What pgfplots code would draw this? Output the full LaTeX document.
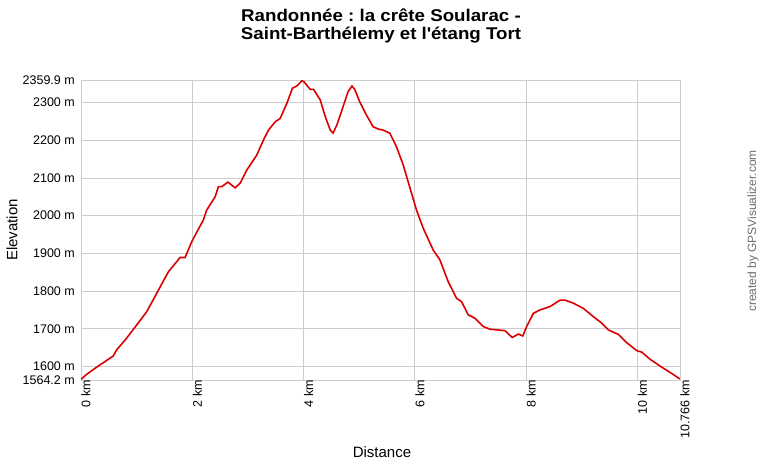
\documentclass[border=0pt]{standalone}
\usepackage{fontspec}
\setmainfont{Liberation Sans}
\newfontfamily\titlefont[FakeStretch=1.1]{Liberation Sans}
\usepackage{pgfplots}
\pgfplotsset{compat=1.18}
\definecolor{trk}{RGB}{221,0,0}
\definecolor{gridc}{RGB}{204,204,204}
\definecolor{credit}{RGB}{110,110,110}
\frenchspacing

\begin{document}
\begin{tikzpicture}
\path[use as bounding box] (-81bp,-80bp) rectangle (679bp,380bp);
\begin{axis}[
  at={(0,0)}, anchor=south west,
  scale only axis,
  width=599bp, height=300bp,
  xmin=0, xmax=10.766,
  ymin=1564.2, ymax=2359.9,
  axis line style={gridc, line width=0.8bp},
  grid=major,
  major grid style={gridc, line width=0.8bp},
  major tick length=0pt,
  xtick={0,2,4,6,8,10,10.766},
  xticklabels={0 km,2 km,4 km,6 km,8 km,10 km,10.766 km},
  ytick={1564.2,1600,1700,1800,1900,2000,2100,2200,2300,2359.9},
  yticklabels={1564.2 m,1600 m,1700 m,1800 m,1900 m,2000 m,2100 m,2200 m,2300 m,2359.9 m},
  x tick label style={rotate=90, anchor=east, inner sep=0pt, yshift=-5bp,
    font=\fontsize{12.5bp}{14bp}\selectfont},
  y tick label style={anchor=east, inner sep=0pt, xshift=-6bp,
    font=\fontsize{12.5bp}{14bp}\selectfont},
  xlabel={Distance},
  ylabel={Elevation},
  label style={font=\fontsize{15bp}{17bp}\selectfont},
  xlabel style={at={(axis description cs:0.5025,-0.24)}, anchor=center},
  ylabel style={at={(axis description cs:-0.1152,0.5)}, anchor=center},
  title={Randonnée : la crête Soularac -\\Saint-Barthélemy et l\textquotesingle étang Tort},
  title style={align=center, at={(axis description cs:0.5008,1.16)}, anchor=center,
    font=\titlefont\bfseries\fontsize{17bp}{18bp}\selectfont},
]
\addplot[color=trk, line width=1.6bp] coordinates {
(0,1566)(0.10,1579)(0.28,1598)(0.40,1610)(0.58,1628)(0.64,1644)
(0.82,1675)(1.00,1710)(1.18,1745)(1.36,1794)(1.57,1851)(1.78,1889)
(1.87,1889)(1.99,1931)(2.20,1989)(2.26,2015)(2.41,2050)(2.47,2077)
(2.53,2077)(2.64,2089)(2.77,2074)(2.86,2086)(2.98,2121)(3.16,2161)
(3.28,2201)(3.37,2227)(3.49,2249)(3.58,2258)(3.70,2298)(3.80,2338)
(3.88,2344)(3.97,2358)(4.01,2355)(4.12,2335)(4.18,2335)(4.30,2307)
(4.39,2263)(4.48,2227)(4.53,2219)(4.60,2241)(4.71,2289)(4.80,2329)
(4.87,2344)(4.92,2335)(5.01,2302)(5.13,2267)(5.25,2236)(5.34,2230)
(5.43,2227)(5.55,2219)(5.67,2183)(5.79,2135)(5.94,2060)(6.03,2015)
(6.15,1967)(6.33,1909)(6.45,1883)(6.60,1825)(6.75,1781)(6.84,1772)
(6.96,1737)(7.08,1728)(7.23,1706)(7.35,1699)(7.62,1695)(7.75,1677)
(7.86,1686)(7.94,1681)(8.01,1706)(8.13,1741)(8.25,1750)(8.43,1759)
(8.61,1776)(8.70,1776)(8.85,1768)(9.03,1754)(9.21,1732)(9.36,1715)
(9.48,1697)(9.66,1685)(9.81,1663)(9.99,1642)(10.08,1638)(10.23,1619)
(10.41,1601)(10.59,1584)(10.766,1567)
};
\end{axis}
\node[rotate=90, text=credit, font=\fontsize{12bp}{14bp}\selectfont]
  at (672bp,149bp) {created by GPSVisualizer.com};
\end{tikzpicture}
\end{document}
